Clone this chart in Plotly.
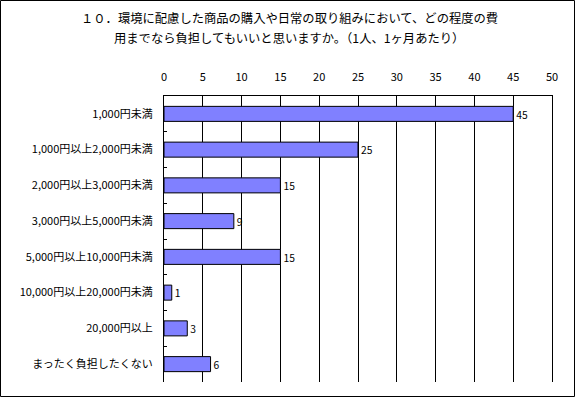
import plotly.graph_objects as go

categories = [
    "1,000円未満",
    "1,000円以上2,000円未満",
    "2,000円以上3,000円未満",
    "3,000円以上5,000円未満",
    "5,000円以上10,000円未満",
    "10,000円以上20,000円未満",
    "20,000円以上",
    "まったく負担したくない",
]
values = [45, 25, 15, 9, 15, 1, 3, 6]
x_ticks = [0, 5, 10, 15, 20, 25, 30, 35, 40, 45, 50]
title_lines = [
    "１０．環境に配慮した商品の購入や日常の取り組みにおいて、どの程度の費",
    "用までなら負担してもいいと思いますか。（1人、1ヶ月あたり）",
]

FONT = "Noto Sans CJK JP"
W, H = 575, 397
ML, MR, MT, MB = 164, 23, 96, 15
PW = W - ML - MR
PH = H - MT - MB

fig = go.Figure(
    go.Bar(
        y=categories,
        x=values,
        orientation="h",
        width=0.42,
        marker=dict(color="#8080FF", line=dict(color="black", width=1)),
        text=[str(v) for v in values],
        textposition="outside",
        textfont=dict(family=FONT, size=11, color="black"),
        cliponaxis=False,
    )
)

def px_x(p):
    return (p - ML) / PW

def px_y(p):
    return (H - MB - p) / PH

annotations = []
for i, line in enumerate(title_lines):
    annotations.append(
        dict(
            text=line,
            xref="paper",
            yref="paper",
            x=px_x(289),
            y=px_y(17.5 + 20.5 * i),
            xanchor="center",
            yanchor="middle",
            showarrow=False,
            font=dict(family=FONT, size=12.3, color="black"),
        )
    )

fig.update_layout(
    width=W,
    height=H,
    margin=dict(l=ML, r=MR, t=MT, b=MB, pad=0),
    paper_bgcolor="white",
    plot_bgcolor="white",
    showlegend=False,
    annotations=annotations,
    font=dict(family=FONT, size=11, color="black"),
    shapes=[
        dict(
            type="rect",
            xref="paper",
            yref="paper",
            x0=px_x(0.5),
            x1=px_x(574.5),
            y0=px_y(0.5),
            y1=px_y(396.5),
            line=dict(color="black", width=1),
            fillcolor="rgba(0,0,0,0)",
            layer="above",
        )
    ],
    xaxis=dict(
        side="top",
        range=[0, 50],
        tickvals=x_ticks,
        ticktext=[str(t) for t in x_ticks],
        showgrid=True,
        gridcolor="black",
        gridwidth=1,
        showline=True,
        linecolor="black",
        linewidth=1,
        zeroline=False,
        ticks="outside",
        ticklen=10,
        tickcolor="rgba(0,0,0,0)",
        tickfont=dict(family=FONT, size=11, color="black"),
        fixedrange=True,
    ),
    yaxis=dict(
        autorange="reversed",
        showline=True,
        mirror=True,
        linecolor="black",
        linewidth=1,
        showgrid=False,
        ticks="inside",
        tickson="boundaries",
        ticklen=3,
        tickcolor="black",
        ticklabelstandoff=8,
        tickfont=dict(family=FONT, size=11, color="black"),
        fixedrange=True,
    ),
)

fig.write_html(
    "out.html",
    config={"displayModeBar": False},
    post_script="document.body.style.margin='0';document.body.style.overflow='hidden';",
)
